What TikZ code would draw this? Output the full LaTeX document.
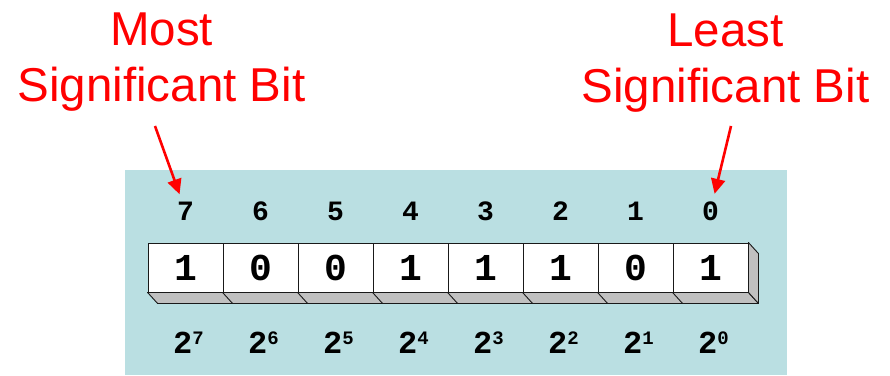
\documentclass[tikz,border=0pt]{standalone}
\usepackage{fontspec}
\setmainfont{Liberation Sans}
\newfontfamily\monofont{Liberation Mono}
\usetikzlibrary{arrows.meta}
\definecolor{panel}{RGB}{186,223,226}
\definecolor{signal}{RGB}{255,0,0}
\definecolor{edge}{RGB}{192,192,192}
\definecolor{ink}{RGB}{25,25,25}
\newcommand{\expo}[1]{2\raisebox{9pt}{\fontsize{19}{19}\selectfont #1}}
\tikzset{
  >={Triangle[length=15pt,width=14pt]},
  cell/.style={draw=ink,fill=white,line width=0.9pt,minimum width=75pt,
    minimum height=49pt,inner sep=0pt,font=\monofont\bfseries\fontsize{38}{38}\selectfont},
  idx/.style={anchor=base,font=\monofont\bfseries\fontsize{28}{28}\selectfont},
  pow/.style={anchor=base,font=\monofont\bfseries\fontsize{32}{32}\selectfont},
  callout/.style={text=signal,align=center,font=\fontsize{47.5}{56}\selectfont},
  pointer/.style={->,draw=signal,fill=signal,line width=2.6pt,shorten >=4pt},
  face/.style={fill=edge,draw=ink,line width=0.9pt,line join=round},
}
\begin{document}
\begin{tikzpicture}[x=1pt,y=1pt]
  \useasboundingbox (0,0) rectangle (890,375);
  \fill[panel] (125,0) rectangle (787,205);
  % register cells, bit positions and weights
  \foreach \b [count=\i from 0] in {1,0,0,1,1,1,0,1}{
    \pgfmathtruncatemacro{\k}{7-\i}
    \node[cell] (c\k) at ({185.5+75*\i},107.5) {\b};
    \node[idx] (i\k) at ({185.5+75*\i},155) {\k};
    \node[pow] (p\k) at ({188.5+75*\i},22) {\expo{\k}};
  }
  % 3D edge
  \draw[face] (c7.south west) -- (c0.south east) -- ++(10,-11) -- ([shift={(10,-11)}]c7.south west) -- cycle;
  \draw[face] (c0.north east) -- ++(10,-11) -- ([shift={(10,-11)}]c0.south east) -- (c0.south east) -- cycle;
  \foreach \k in {6,...,0} \draw[ink,line width=0.9pt] (c\k.south west) -- ++(10,-11);
  % labels
  \node[callout] (msb) at (161.5,313) {Most\\Significant Bit};
  \node[callout] (lsb) at (725.5,311.5) {Least\\Significant Bit};
  \coordinate (msbtail) at (155,249);
  \coordinate (lsbtail) at (731,249);
  \draw[pointer] (msbtail) -- (i7);
  \draw[pointer] (lsbtail) -- (i0);
\end{tikzpicture}
\end{document}
